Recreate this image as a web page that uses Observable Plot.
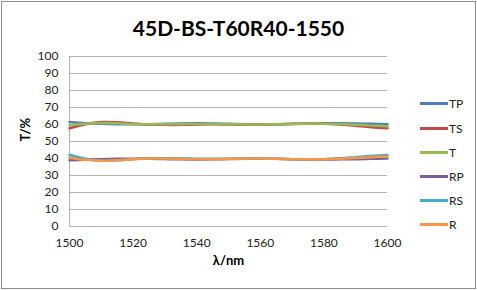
<!DOCTYPE html>
<html>
<head>
<meta charset="utf-8">
<script src="https://cdn.jsdelivr.net/npm/d3@7"></script>
<script src="https://cdn.jsdelivr.net/npm/@observablehq/plot@0.6"></script>
<style>
  html, body { margin: 0; padding: 0; background: #fff; }
  #wrap { position: relative; width: 477px; height: 290px; font-family: Lato, "Open Sans", sans-serif; }
  #frame { position: absolute; left: 1px; top: 1px; width: 473px; height: 286px; border: 1px solid #8c8c8c; box-sizing: content-box; pointer-events: none; }
  #title { position: absolute; left: 0; width: 477px; top: 15px; text-align: center; font-weight: bold; font-size: 21px; color: #000; }
  #legend { position: absolute; left: 420px; top: 0; }
  .li { position: absolute; display: flex; align-items: center; font-size: 12px; color: #222; white-space: nowrap; }
  .li span.sw { display: inline-block; width: 28px; height: 3px; margin-right: 1px; }
</style>
</head>
<body>
<div id="wrap">
  <div id="chart"></div>
  <div id="title">45D-BS-T60R40-1550</div>
  <div id="legend"></div>
  <div id="frame"></div>
</div>
<script>
const wavelength = [1500, 1505, 1510, 1515, 1520, 1525, 1530, 1535, 1540, 1545, 1550, 1555, 1560, 1565, 1570, 1575, 1580, 1585, 1590, 1595, 1600];
const TP = [61.5, 60.8, 60.4, 60.2, 60.1, 60.2, 60.4, 60.6, 60.7, 60.6, 60.4, 60.2, 60.1, 60.2, 60.4, 60.6, 60.7, 60.7, 60.6, 60.4, 60.2];
const TS = [57.8, 60.2, 61.4, 61.3, 60.6, 60.0, 59.8, 59.8, 60.0, 60.1, 60.0, 59.9, 59.9, 60.1, 60.3, 60.4, 60.4, 60.0, 59.2, 58.4, 57.8];
const T  = [59.6, 60.5, 60.9, 60.7, 60.3, 60.1, 60.1, 60.2, 60.3, 60.3, 60.2, 60.0, 60.0, 60.1, 60.3, 60.5, 60.5, 60.3, 59.9, 59.4, 59.0];
const RP = [39.0, 39.3, 39.6, 39.8, 39.9, 39.9, 39.7, 39.5, 39.4, 39.5, 39.7, 39.9, 39.9, 39.8, 39.6, 39.4, 39.4, 39.5, 39.6, 39.8, 40.0];
const RS = [42.2, 39.8, 38.7, 38.9, 39.6, 40.1, 40.2, 40.1, 39.9, 39.8, 39.9, 40.0, 40.0, 39.8, 39.6, 39.5, 39.6, 40.1, 40.8, 41.5, 42.0];
const R  = [40.5, 39.2, 38.7, 39.0, 39.6, 40.0, 40.0, 39.8, 39.6, 39.6, 39.8, 39.9, 40.0, 39.8, 39.6, 39.5, 39.5, 39.8, 40.3, 40.8, 41.2];
const seriesNames = ["TP", "TS", "T", "RP", "RS", "R"];
const seriesValues = [TP, TS, T, RP, RS, R];
const colors = ["#4A7EBB", "#BE4B48", "#98B954", "#7D60A0", "#46AAC5", "#F79646"];
const yTicks = [0, 10, 20, 30, 40, 50, 60, 70, 80, 90, 100];
const xTicks = [1500, 1520, 1540, 1560, 1580, 1600];

const rows = [];
seriesNames.forEach((name, i) => {
  wavelength.forEach((w, j) => rows.push({series: name, x: w, y: seriesValues[i][j]}));
});

const chart = Plot.plot({
  width: 477,
  height: 290,
  marginLeft: 69,
  marginRight: 90,
  marginTop: 56,
  marginBottom: 64,
  style: {fontFamily: "Lato, 'Open Sans', sans-serif", fontSize: "12px", color: "#222", background: "transparent"},
  x: {domain: [1500, 1600], label: null},
  y: {domain: [0, 100], label: null},
  color: {domain: seriesNames, range: colors},
  marks: [
    Plot.gridY(yTicks.filter(d => d > 0), {stroke: "#b3b3b3", strokeOpacity: 1, strokeWidth: 1}),
    Plot.ruleX([1500], {stroke: "#b3b3b3", strokeWidth: 1}),
    Plot.ruleY([0], {stroke: "#b3b3b3", strokeWidth: 1}),
    Plot.axisX({ticks: xTicks, tickSize: 0, tickPadding: 12, label: null, fontSize: 12, tickFormat: d => String(d)}),
    Plot.axisY({ticks: yTicks, tickSize: 0, tickPadding: 11, label: null, fontSize: 12}),
    Plot.line(rows, {x: "x", y: "y", z: "series", stroke: "series", strokeWidth: 2.5, curve: "catmull-rom"}),
    Plot.text(["λ/nm"], {frameAnchor: "bottom", dy: 38, fontWeight: "bold", fontSize: 13, fill: "#000"}),
    Plot.text(["T/%"], {frameAnchor: "left", dx: -44, rotate: -90, fontWeight: "bold", fontSize: 13, fill: "#000"})
  ]
});
document.getElementById("chart").appendChild(chart);

const legend = document.getElementById("legend");
const legendY = [104, 129, 153, 177, 201, 225];
seriesNames.forEach((name, i) => {
  const d = document.createElement("div");
  d.className = "li";
  d.style.top = (legendY[i] - 8) + "px";
  d.style.left = "0px";
  d.innerHTML = `<span class="sw" style="background:${colors[i]}"></span>${name}`;
  legend.appendChild(d);
});
</script>
</body>
</html>
